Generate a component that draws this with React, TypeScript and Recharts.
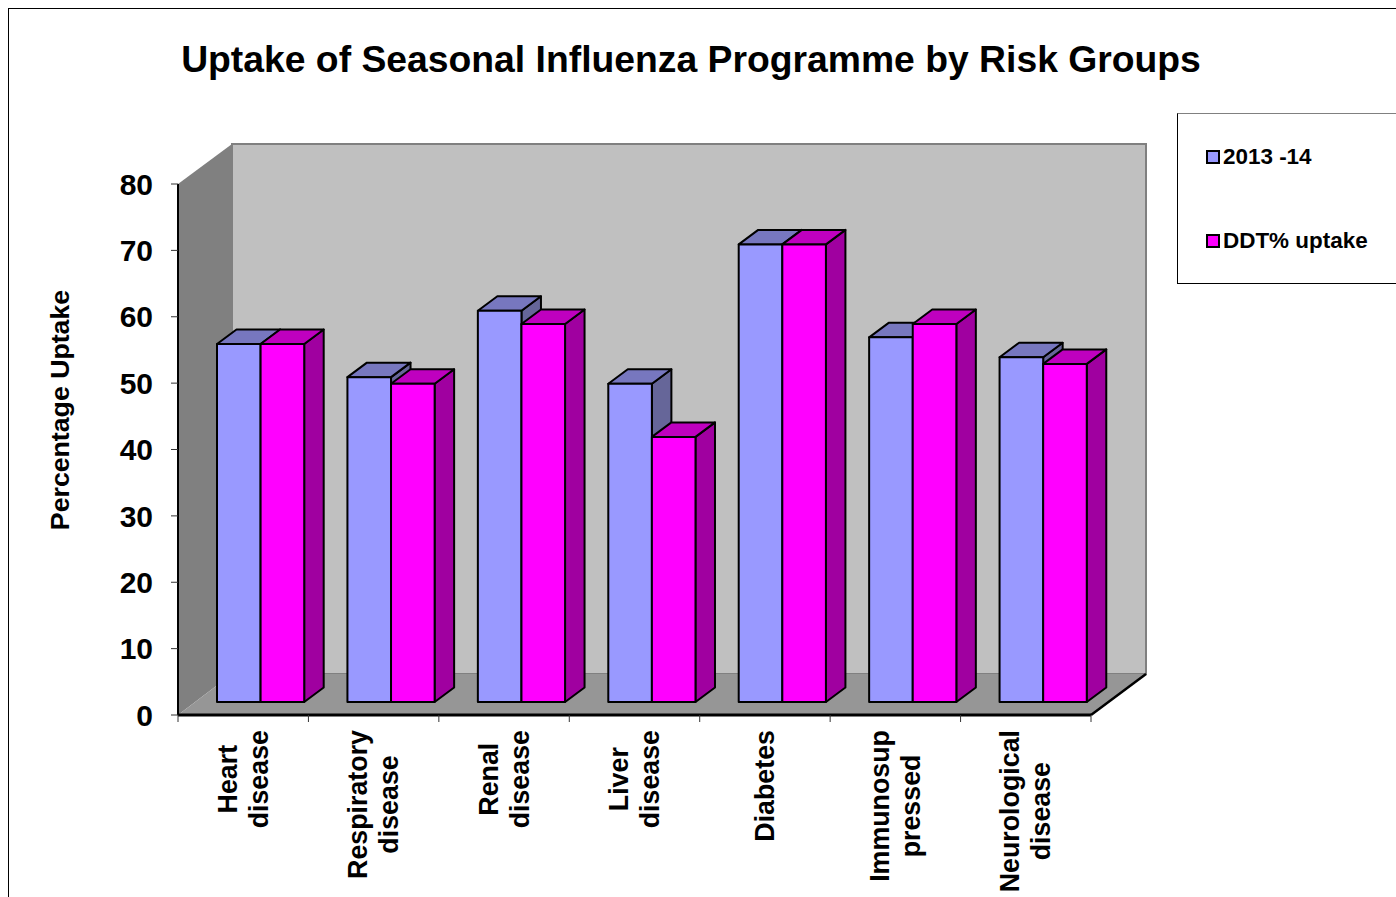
import React from "react";
import { BarChart, Bar, XAxis, YAxis, Legend, Customized } from "recharts";

const categories = [
  ["Heart", "disease"],
  ["Respiratory", "disease"],
  ["Renal", "disease"],
  ["Liver", "disease"],
  ["Diabetes"],
  ["Immunosup", "pressed"],
  ["Neurological", "disease"],
];
const uptake2013 = [54, 49, 59, 48, 69, 55, 52];
const ddtUptake = [54, 48, 57, 40, 69, 57, 51];
const yTicks = [0, 10, 20, 30, 40, 50, 60, 70, 80];
const TITLE = "Uptake of Seasonal Influenza Programme by Risk Groups";
const Y_LABEL = "Percentage Uptake";
const NAME_A = "2013 -14";
const NAME_B = "DDT% uptake";

const data = categories.map((lines, i) => ({
  name: lines.join(" "),
  lines,
  a: uptake2013[i],
  b: ddtUptake[i],
}));

const FONT = '"Liberation Sans", Arial, sans-serif';
const W = 1388;
const H = 889;
const M = { top: 176, right: 305, bottom: 0, left: 0 };
const Y_W = 170;
const X_H = 182;
const PL = Y_W;
const PR = W - M.right;
const PT = M.top;
const PB = H - X_H;
const SLOT = (PR - PL) / categories.length;
const WALL_DX = 54;
const WALL_RIGHT_DX = 55;
const WALL_TOP_DY = -40;
const WALL_BOTTOM_DY = -41;
const BAR_SHIFT_X = 17;
const BAR_SHIFT_Y = -12.6;
const DEPTH_X = 19.5;
const DEPTH_Y = -14.5;
const TICK_FONT = 26.8;

let ctx: CanvasRenderingContext2D | null = null;
function measure(s: string) {
  if (!ctx) ctx = document.createElement("canvas").getContext("2d");
  ctx!.font = `bold ${TICK_FONT}px "Liberation Sans"`;
  return ctx!.measureText(s).width;
}

function Walls() {
  const p = (pts: number[][]) => pts.map((q) => q.join(",")).join(" ");
  return (
    <g>
      <polygon
        points={p([
          [PL + WALL_DX, PT + WALL_TOP_DY],
          [PR + WALL_RIGHT_DX, PT + WALL_TOP_DY],
          [PR + WALL_RIGHT_DX, PB + WALL_BOTTOM_DY],
          [PL + WALL_DX, PB + WALL_BOTTOM_DY],
        ])}
        fill="#C0C0C0"
        stroke="#808080"
        strokeWidth={2}
      />
      <polygon
        points={p([
          [PL, PT],
          [PL + WALL_DX, PT + WALL_TOP_DY],
          [PL + WALL_DX, PB + WALL_BOTTOM_DY],
          [PL, PB],
        ])}
        fill="#808080"
      />
      <polygon
        points={p([
          [PL, PB],
          [PL + WALL_DX, PB + WALL_BOTTOM_DY],
          [PR + WALL_RIGHT_DX, PB + WALL_BOTTOM_DY],
          [PR, PB],
        ])}
        fill="#969696"
      />
      <line
        x1={PR}
        y1={PB}
        x2={PR + WALL_RIGHT_DX}
        y2={PB + WALL_BOTTOM_DY}
        stroke="#000"
        strokeWidth={2.5}
      />
      <text
        x={683}
        y={64}
        textAnchor="middle"
        fontFamily={FONT}
        fontWeight="bold"
        fontSize={37.3}
        fill="#000"
      >
        {TITLE}
      </text>
    </g>
  );
}

function Bar3D(props: any) {
  const { x, y, width, height, fill, topFill, sideFill } = props;
  const l = x + BAR_SHIFT_X;
  const r = l + width;
  const t = y + BAR_SHIFT_Y;
  const b = t + height - 0.4;
  const dx = DEPTH_X;
  const dy = DEPTH_Y;
  const common = { stroke: "#000", strokeWidth: 2, strokeLinejoin: "round" as const };
  return (
    <g>
      <polygon
        points={`${r},${t} ${r + dx},${t + dy} ${r + dx},${b + dy} ${r},${b}`}
        fill={sideFill}
        {...common}
      />
      <polygon
        points={`${l},${t} ${l + dx},${t + dy} ${r + dx},${t + dy} ${r},${t}`}
        fill={topFill}
        {...common}
      />
      <rect x={l} y={t} width={width} height={b - t} fill={fill} {...common} />
    </g>
  );
}

function CategoryTick(props: any) {
  const { x, y, index } = props;
  const lines: string[] = categories[index] ?? [];
  const longest = Math.max(...lines.map(measure));
  const top = y + 6;
  const cy = top + longest / 2;
  const gap = 31;
  const startX = x - ((lines.length - 1) * gap) / 2;
  const left = x - SLOT / 2;
  return (
    <g>
      <line x1={left} x2={left} y1={PB} y2={PB + 7} stroke="#333" strokeWidth={1} />
      {index === categories.length - 1 && (
        <line x1={left + SLOT} x2={left + SLOT} y1={PB} y2={PB + 7} stroke="#333" strokeWidth={1} />
      )}
      {lines.map((ln, i) => {
        const cx = startX + i * gap;
        return (
          <text
            key={ln}
            x={cx}
            y={cy}
            transform={`rotate(-90 ${cx} ${cy})`}
            textAnchor="middle"
            dominantBaseline="central"
            fontFamily={FONT}
            fontWeight="bold"
            fontSize={TICK_FONT}
            fill="#000"
          >
            {ln}
          </text>
        );
      })}
    </g>
  );
}

function YAxisTitle() {
  const cx = 52;
  const cy = 402;
  return (
    <text
      x={cx}
      y={cy}
      transform={`rotate(-90 ${cx} ${cy})`}
      textAnchor="middle"
      dominantBaseline="central"
      fontFamily={FONT}
      fontWeight="bold"
      fontSize={26.7}
      fill="#000"
    >
      {Y_LABEL}
    </text>
  );
}

function LegendBox({ payload }: any) {
  return (
    <div
      style={{
        boxSizing: "border-box",
        width: 230,
        height: 171,
        background: "#fff",
        border: "1px solid #000",
        borderTopColor: "#808080",
        position: "relative",
      }}
    >
      {(payload ?? []).map((e: any, i: number) => (
        <div
          key={e.value}
          style={{
            position: "absolute",
            left: 28,
            top: 28 + i * 84,
            height: 30,
            display: "flex",
            alignItems: "center",
            fontFamily: FONT,
            fontWeight: "bold",
            fontSize: 22.45,
            color: "#000",
            whiteSpace: "nowrap",
          }}
        >
          <span
            style={{
              display: "inline-block",
              boxSizing: "border-box",
              width: 14,
              height: 14,
              background: e.color,
              border: "2px solid #000",
              marginRight: 3,
            }}
          />
          {e.value}
        </div>
      ))}
    </div>
  );
}

export default function App() {
  return (
    <div
      style={{
        position: "absolute",
        left: 8,
        top: 8,
        width: W,
        height: H,
        overflow: "hidden",
        background: "#fff",
        boxShadow: "inset 1px 1px 0 #000",
      }}
    >
      <BarChart width={W} height={H} data={data} margin={M} barSize={43.6} barGap={0}>
        <Customized component={Walls} />
        <XAxis
          dataKey="name"
          height={X_H}
          interval={0}
          tickSize={7}
          tick={<CategoryTick />}
          tickLine={false}
          axisLine={{ stroke: "#000", strokeWidth: 3 }}
        />
        <YAxis
          width={Y_W}
          domain={[0, 80]}
          ticks={yTicks}
          interval={0}
          tickSize={7}
          tickMargin={18}
          tick={{ fontFamily: FONT, fontWeight: "bold", fontSize: 30, fill: "#000" }}
          tickLine={{ stroke: "#333", strokeWidth: 1 }}
          axisLine={{ stroke: "#000", strokeWidth: 2 }}
          label={{ content: () => <YAxisTitle /> }}
        />
        <Legend
          layout="horizontal"
          verticalAlign="middle"
          align="center"
          content={<LegendBox />}
          wrapperStyle={{ position: "absolute", left: 1169, top: 105, width: 230, height: 171 }}
        />
        <Bar
          dataKey="a"
          name={NAME_A}
          fill="#9999FF"
          isAnimationActive={false}
          shape={(p: any) => <Bar3D {...p} fill="#9999FF" topFill="#7777BF" sideFill="#666699" />}
        />
        <Bar
          dataKey="b"
          name={NAME_B}
          fill="#FF00FF"
          isAnimationActive={false}
          shape={(p: any) => <Bar3D {...p} fill="#FF00FF" topFill="#BF00BF" sideFill="#A000A0" />}
        />
      </BarChart>
    </div>
  );
}
